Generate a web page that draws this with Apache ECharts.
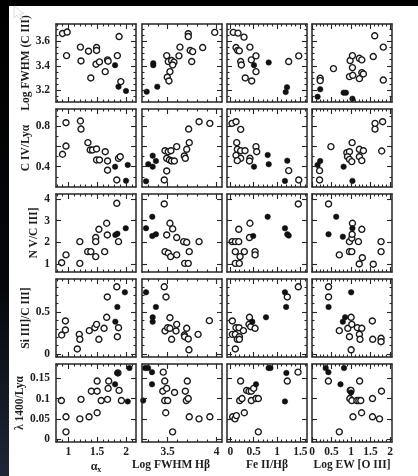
<!DOCTYPE html>
<html><head><meta charset="utf-8">
<script src="https://cdn.jsdelivr.net/npm/echarts@6/dist/echarts.min.js"></script>
<style>html,body{margin:0;padding:0;background:#fff}#c{width:418px;height:476px}</style>
</head><body><div id="c"></div>
<script>
// ---------- axis titles & ticks ----------
const colNames = ['αx', 'Log FWHM Hβ', 'Fe II/Hβ', 'Log EW [O III]'];
const rowNames = ['Log FWHM (C III)', 'C IV/Lyα', 'N V/C III]', 'Si III]/C III]', 'λ 1400/Lyα'];
const xRanges = [[0.787, 2.173], [3.238, 4.054], [-0.071, 1.642], [0, 2.05]];
const yRanges = [[3.102, 3.744], [0.2, 0.967], [0.63, 4.23], [-0.036, 0.893], [-0.007, 0.185]];
const xMajor = [[1, 1.5, 2], [3.5, 4], [0, 0.5, 1, 1.5], [0, 0.5, 1, 1.5, 2]];
const xLabels = [[1, 1.5, 2], [3.5, 4], [0, 0.5, 1, 1.5], [0, 0.5, 1, 1.5, 2]];
const xMinorStep = [0.1, 0.1, 0.1, 0.1];
const yMajor = [[3.2, 3.4, 3.6], [0.4, 0.6, 0.8], [1, 2, 3, 4], [0, 0.5], [0, 0.05, 0.1, 0.15]];
const yLabels = [[3.2, 3.4, 3.6], [0.4, 0.8], [1, 2, 3, 4], [0, 0.5], [0, 0.05, 0.1, 0.15]];
const yMinorStep = [0.05, 0.1, 0, 0.1, 0];

// ---------- data (open circles / filled dots) ----------
const r1c1Open = [[0.90,3.666],[0.98,3.678],[0.97,3.484],[1.21,3.554],[1.22,3.44],[1.35,3.52],[1.49,3.55],[1.49,3.526],[1.39,3.30],[1.48,3.413],[1.54,3.432],[1.68,3.449],[1.69,3.438],[1.64,3.352],[1.85,3.484],[1.88,3.641],[1.91,3.27]];
const r1c1Filled = [[1.81,3.405],[1.87,3.228],[2.0,3.193]];
const r1c2Open = [[3.49,3.484],[3.506,3.435],[3.54,3.443],[3.564,3.43],[3.551,3.407],[3.523,3.352],[3.496,3.306],[3.513,3.275],[3.625,3.554],[3.615,3.482],[3.71,3.664],[3.71,3.641],[3.73,3.526],[3.755,3.517],[3.745,3.435],[3.857,3.55],[3.98,3.675]];
const r1c2Filled = [[3.286,3.187],[3.353,3.421],[3.353,3.405],[3.394,3.228]];
const r1c3Open = [[0.064,3.675],[0.165,3.669],[0.293,3.636],[0.122,3.55],[0.158,3.526],[0.193,3.523],[0.222,3.435],[0.236,3.407],[0.42,3.554],[0.45,3.449],[0.55,3.482],[0.32,3.30],[0.458,3.275],[0.55,3.352],[1.25,3.435],[1.465,3.482]];
const r1c3Filled = [[0.507,3.405],[0.822,3.427],[1.214,3.223],[1.186,3.184]];
const r1c4Open = [[0.21,3.297],[0.21,3.278],[0.55,3.377],[0.96,3.311],[1.045,3.322],[0.977,3.443],[1.036,3.484],[1.036,3.385],[1.214,3.462],[1.276,3.449],[1.214,3.294],[1.276,3.344],[1.317,3.333],[1.57,3.476],[1.607,3.647],[1.827,3.554],[1.827,3.283]];
const r1c4Filled = [[0.143,3.145],[0.21,3.207],[0.81,3.179],[0.87,3.179],[1.036,3.129]];

const r2c1Open = [[0.90,0.522],[0.96,0.832],[0.96,0.603],[1.21,0.849],[1.22,0.77],[1.34,0.636],[1.38,0.564],[1.42,0.564],[1.49,0.574],[1.49,0.466],[1.54,0.466],[1.64,0.547],[1.68,0.456],[1.68,0.365],[1.87,0.482],[1.90,0.498],[1.84,0.269]];
const r2c1Filled = [[1.81,0.40],[2.03,0.417],[2.0,0.262]];
const r2c2Open = [[3.465,0.269],[3.49,0.358],[3.473,0.557],[3.506,0.547],[3.533,0.557],[3.49,0.482],[3.517,0.466],[3.54,0.456],[3.568,0.456],[3.592,0.597],[3.67,0.505],[3.68,0.482],[3.694,0.571],[3.72,0.636],[3.714,0.77],[3.82,0.842],[3.93,0.826]];
const r2c2Filled = [[3.279,0.256],[3.302,0.424],[3.347,0.40],[3.347,0.508],[3.38,0.456]];
const r2c3Open = [[0.036,0.826],[0.122,0.842],[0.222,0.767],[0.137,0.636],[0.15,0.571],[0.222,0.557],[0.315,0.557],[0.122,0.511],[0.222,0.482],[0.15,0.459],[0.42,0.482],[0.41,0.456],[0.55,0.597],[0.565,0.547],[1.25,0.361],[1.465,0.269]];
const r2c3Filled = [[0.507,0.40],[0.80,0.515],[0.822,0.424],[1.22,0.459],[1.17,0.26]];
const r2c4Open = [[0.194,0.361],[0.194,0.269],[0.485,0.597],[0.893,0.538],[0.96,0.547],[0.91,0.498],[1.028,0.636],[0.96,0.472],[1.02,0.45],[1.214,0.571],[1.317,0.557],[1.214,0.498],[1.276,0.459],[1.615,0.77],[1.615,0.826],[1.81,0.842],[1.786,0.554]];
const r2c4Filled = [[0.143,0.417],[0.21,0.456],[0.81,0.40],[1.036,0.26]];

const r3c1Open = [[0.885,1.06],[0.96,1.42],[1.20,2.03],[1.20,1.03],[1.336,1.57],[1.39,1.57],[1.475,2.22],[1.475,2.03],[1.53,2.60],[1.475,1.34],[1.63,1.57],[1.665,2.88],[1.676,2.34],[1.84,3.80],[1.87,2.03]];
const r3c1Filled = [[1.815,2.34],[1.85,2.40],[1.995,2.65]];
const r3c2Open = [[3.465,3.77],[3.49,2.34],[3.523,2.88],[3.551,2.62],[3.473,1.57],[3.506,1.50],[3.53,1.34],[3.592,1.42],[3.592,2.22],[3.663,2.03],[3.694,2.0],[3.673,1.03],[3.71,1.03],[3.72,1.57],[3.82,2.03]];
const r3c2Filled = [[3.279,2.65],[3.343,3.18],[3.343,2.29],[3.38,2.37]];
const r3c3Open = [[0.04,2.03],[0.11,2.03],[0.18,2.03],[0.18,2.60],[0.107,1.57],[0.208,1.34],[0.30,1.57],[0.107,1.03],[0.193,1.03],[0.42,2.88],[0.41,2.22],[0.53,1.57],[0.53,1.42],[1.456,3.77]];
const r3c3Filled = [[0.49,2.29],[0.80,3.18],[1.17,2.65],[1.22,2.37],[1.25,2.31]];
const r3c4Open = [[0.424,3.77],[0.70,1.42],[0.96,1.57],[1.02,1.57],[0.96,2.03],[1.02,2.19],[1.028,2.37],[1.036,2.88],[1.19,2.03],[1.29,1.29],[1.21,1.0],[1.276,2.60],[1.57,0.99],[1.77,1.57],[1.77,2.03]];
const r3c4Filled = [[0.424,2.37],[0.62,3.18],[0.79,2.26],[1.036,2.65]];

const r4c1Open = [[0.885,0.226],[0.95,0.286],[0.95,0.393],[1.19,0.234],[1.20,0.175],[1.156,0.06],[1.364,0.278],[1.46,0.313],[1.49,0.353],[1.53,0.175],[1.62,0.306],[1.665,0.437],[1.676,0.679],[1.84,0.80],[1.87,0.313],[1.85,0.206]];
const r4c1Filled = [[1.815,0.385],[1.85,0.56],[1.98,0.734]];
const r4c2Open = [[3.465,0.80],[3.483,0.679],[3.523,0.432],[3.473,0.274],[3.50,0.313],[3.523,0.306],[3.54,0.175],[3.585,0.274],[3.592,0.353],[3.67,0.226],[3.673,0.206],[3.694,0.306],[3.71,0.179],[3.717,0.05],[3.81,0.234],[3.925,0.397]];
const r4c2Filled = [[3.279,0.734],[3.347,0.437],[3.347,0.385],[3.38,0.56]];
const r4c3Open = [[0.043,0.393],[0.043,0.234],[0.107,0.234],[0.122,0.313],[0.186,0.313],[0.107,0.06],[0.15,0.175],[0.193,0.206],[0.193,0.175],[0.28,0.278],[0.40,0.353],[0.41,0.437],[0.437,0.325],[0.53,0.306],[1.22,0.679],[1.456,0.80]];
const r4c3Filled = [[0.471,0.385],[0.764,0.437],[1.17,0.734],[1.195,0.56]];
const r4c4Open = [[0.424,0.80],[0.424,0.679],[0.70,0.278],[0.918,0.306],[0.96,0.206],[1.003,0.437],[1.02,0.353],[1.003,0.05],[1.163,0.313],[1.276,0.306],[1.214,0.234],[1.23,0.175],[1.556,0.175],[1.546,0.393],[1.77,0.187],[1.77,0.146]];
const r4c4Filled = [[0.424,0.56],[0.79,0.385],[0.85,0.437],[1.003,0.734]];

const r5c1Open = [[0.88,0.095],[0.96,0.055],[0.96,0.018],[1.22,0.098],[1.20,0.05],[1.36,0.055],[1.40,0.118],[1.50,0.118],[1.50,0.143],[1.50,0.065],[1.57,0.095],[1.68,0.098],[1.69,0.125],[1.70,0.143],[1.86,0.163],[1.88,0.12],[1.92,0.095]];
const r5c1Filled = [[1.81,0.135],[1.85,0.163],[2.03,0.093],[2.06,0.175]];
const r5c2Open = [[3.455,0.165],[3.47,0.143],[3.45,0.118],[3.49,0.125],[3.47,0.095],[3.50,0.095],[3.48,0.065],[3.57,0.115],[3.55,0.018],[3.68,0.118],[3.70,0.143],[3.69,0.095],[3.71,0.1],[3.72,0.055],[3.82,0.05],[3.93,0.055]];
const r5c2Filled = [[3.27,0.175],[3.30,0.175],[3.34,0.165],[3.34,0.135],[3.25,0.095]];
const r5c3Open = [[0.05,0.055],[0.1,0.05],[0.13,0.058],[0.20,0.095],[0.25,0.1],[0.22,0.143],[0.3,0.065],[0.35,0.12],[0.4,0.118],[0.45,0.118],[0.5,0.125],[0.45,0.095],[0.55,0.1],[0.6,0.1],[0.6,0.018],[1.22,0.143],[1.45,0.165]];
const r5c3Filled = [[0.55,0.135],[0.82,0.175],[0.86,0.175],[1.20,0.163],[1.17,0.093]];
const r5c4Open = [[0.42,0.143],[0.70,0.018],[0.97,0.1],[0.98,0.12],[1.0,0.12],[1.02,0.095],[1.05,0.055],[1.15,0.095],[1.2,0.095],[1.25,0.095],[1.22,0.143],[1.27,0.065],[1.55,0.1],[1.55,0.055],[1.73,0.05],[1.78,0.118]];
const r5c4Filled = [[0.35,0.175],[0.42,0.165],[0.82,0.175],[0.73,0.135],[1.0,0.115]];

const openSets = [[r1c1Open,r1c2Open,r1c3Open,r1c4Open],[r2c1Open,r2c2Open,r2c3Open,r2c4Open],[r3c1Open,r3c2Open,r3c3Open,r3c4Open],[r4c1Open,r4c2Open,r4c3Open,r4c4Open],[r5c1Open,r5c2Open,r5c3Open,r5c4Open]];
const filledSets = [[r1c1Filled,r1c2Filled,r1c3Filled,r1c4Filled],[r2c1Filled,r2c2Filled,r2c3Filled,r2c4Filled],[r3c1Filled,r3c2Filled,r3c3Filled,r3c4Filled],[r4c1Filled,r4c2Filled,r4c3Filled,r4c4Filled],[r5c1Filled,r5c2Filled,r5c3Filled,r5c4Filled]];

// ---------- layout ----------
const INK = '#262626';
const FONT = 'Liberation Serif';
const L = [56, 142, 227, 312], T = [24, 109, 194, 279, 364], W = 80, H = 78;

function minorTicks(range, step, majors) {
  if (!step) return [];
  const out = [];
  const start = Math.ceil(range[0] / step - 1e-6);
  for (let k = start; k * step <= range[1] + 1e-9; k++) {
    const v = +(k * step).toFixed(4);
    if (v <= range[0] + 1e-6 || v >= range[1] - 1e-6) continue;
    if (majors.some(m => Math.abs(m - v) < 1e-6)) continue;
    out.push(v);
  }
  return out;
}

const grids = [], xAxes = [], yAxes = [], series = [];
function mkAxis(gi, pos, range, ticks, len, main, labels, extra) {
  const a = {
    type: 'value', gridIndex: gi, position: pos, min: range[0], max: range[1],
    axisLine: {show: main, onZero: false, lineStyle: {color: INK, width: 1.5}},
    axisTick: {show: ticks.length > 0, inside: true, length: len, customValues: ticks.length ? ticks : [range[0]], lineStyle: {color: INK, width: 1.1}},
    axisLabel: labels ? {show: true, customValues: labels, color: '#1e1e1e', fontFamily: FONT, fontWeight: 'bold', fontSize: 11.5, margin: pos === 'left' ? 6 : 4} : {show: false},
    splitLine: {show: false}, minorTick: {show: false}, z: 5
  };
  return Object.assign(a, extra || {});
}

for (let r = 0; r < 5; r++) {
  for (let c = 0; c < 4; c++) {
    const gi = grids.length;
    grids.push({left: L[c], top: T[r], width: W, height: H});
    const xr = xRanges[c], yr = yRanges[r];
    const xMin = minorTicks(xr, xMinorStep[c], xMajor[c]);
    const yMin = minorTicks(yr, yMinorStep[r], yMajor[r]);
    const xi = xAxes.length;
    let xExtra = null;
    if (r === 4) {
      xExtra = {
        name: c === 0 ? '{a|α}{s|x}' : colNames[c], nameLocation: 'middle', nameGap: 17,
        nameTextStyle: {color: '#1e1e1e', fontFamily: FONT, fontWeight: 'bold', fontSize: 11.5,
          padding: c === 1 ? [0, 22, 0, 0] : 0,
          rich: {a: {fontFamily: FONT, fontWeight: 'bold', fontSize: 12, color: '#1e1e1e'},
                 s: {fontFamily: FONT, fontWeight: 'bold', fontSize: 8, color: '#1e1e1e', padding: [7, 0, 0, 0]}}}
      };
    }
    xAxes.push(mkAxis(gi, 'bottom', xr, xMajor[c], 5, true, r === 4 ? xLabels[c] : null, xExtra));
    xAxes.push(mkAxis(gi, 'bottom', xr, xMin, 2.5, false, null));
    xAxes.push(mkAxis(gi, 'top', xr, xMajor[c], 5, true, null));
    xAxes.push(mkAxis(gi, 'top', xr, xMin, 2.5, false, null));
    const yi = yAxes.length;
    let yExtra = null;
    if (c === 0) {
      yExtra = {name: rowNames[r], nameLocation: 'middle', nameGap: 16, nameRotate: 90,
        nameTextStyle: {color: '#1e1e1e', fontFamily: FONT, fontWeight: 'bold', fontSize: 11.5}};
    }
    yAxes.push(mkAxis(gi, 'left', yr, yMajor[r], 5, true, c === 0 ? yLabels[r] : null, yExtra));
    yAxes.push(mkAxis(gi, 'left', yr, yMin, 2.5, false, null));
    yAxes.push(mkAxis(gi, 'right', yr, yMajor[r], 5, true, null));
    yAxes.push(mkAxis(gi, 'right', yr, yMin, 2.5, false, null));
    series.push({type: 'scatter', xAxisIndex: xi, yAxisIndex: yi, data: openSets[r][c],
      symbol: 'circle', symbolSize: 6, silent: true, z: 3,
      itemStyle: {color: '#ffffff', borderColor: '#1a1a1a', borderWidth: 1.4, opacity: 1}});
    series.push({type: 'scatter', xAxisIndex: xi, yAxisIndex: yi, data: filledSets[r][c],
      symbol: 'circle', symbolSize: 5.5, silent: true, z: 4,
      itemStyle: {color: '#111111', borderColor: '#111111', borderWidth: 0.5, opacity: 1}});
  }
}

const chart = echarts.init(document.getElementById('c'), null, {renderer: 'canvas'});
chart.setOption({
  backgroundColor: '#ffffff',
  animation: false,
  grid: grids, xAxis: xAxes, yAxis: yAxes, series: series,
  graphic: [
    {type: 'rect', left: 0, top: 0, shape: {width: 418, height: 6}, style: {fill: '#000'}, z: 100},
    {type: 'rect', left: 0, top: 0, shape: {width: 9, height: 476},
      style: {fill: new echarts.graphic.LinearGradient(0, 0, 0, 1, [{offset: 0, color: '#000'}, {offset: 0.6, color: '#05070b'}, {offset: 1, color: '#1f2636'}])}, z: 100},
    {type: 'polyline', shape: {points: [[14, 6], [14, 18], [17, 15], [20, 20], [22.5, 19], [19.5, 14], [24, 13.5], [14, 6]]},
      style: {fill: 'none', stroke: '#dddddd', lineWidth: 1}, z: 101}
  ]
});
</script></body></html>
